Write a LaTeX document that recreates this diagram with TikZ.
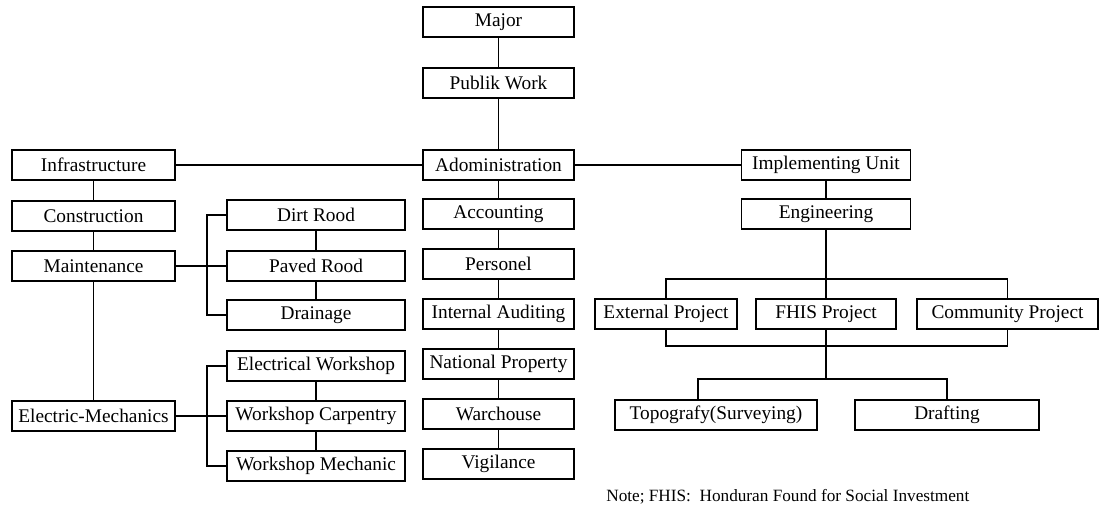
\documentclass[tikz,border=0pt]{standalone}
\usepackage{fontspec}
\setmainfont{Liberation Serif}
\usepackage{tikz}
\usetikzlibrary{positioning}

\begin{document}
\begin{tikzpicture}[x=0.02cm,y=-0.02cm,
  unit/.style={draw=black,fill=white,line width=1pt,minimum height=0.6cm,
    inner xsep=1pt,inner ysep=0pt,align=center,
    font=\fontsize{11}{12}\selectfont},
  leftcol/.style={unit,minimum width=3.26cm},
  subcol/.style={unit,minimum width=3.56cm},
  maincol/.style={unit,minimum width=3.02cm},
  link/.style={line width=0.9pt,black}
]
  \fill[white] (0,0) rectangle (1102,513);
  \useasboundingbox (0,0) rectangle (1102,513);

  \node[maincol] (major) at (498.5,22) {Major};
  \node[maincol] (publik) at (498.5,83) {Publik Work};
  \node[maincol] (admin) at (498.5,165) {Adoministration};
  \node[maincol] (accounting) at (498.5,214) {Accounting};
  \node[maincol] (personel) at (498.5,264) {Personel};
  \node[maincol] (auditing) at (498.5,314) {Internal Auditing};
  \node[maincol] (property) at (498.5,364) {National Property};
  \node[maincol] (warehouse) at (498.5,414) {Warchouse};
  \node[maincol] (vigilance) at (498.5,464) {Vigilance};

  \node[leftcol] (infra) at (93.5,165) {Infrastructure};
  \node[leftcol] (constr) at (93.5,216) {Construction};
  \node[leftcol] (maint) at (93.5,266) {Maintenance};
  \node[leftcol] (elmech) at (93.5,416) {Electric-Mechanics};

  \node[subcol] (dirt) at (316,215) {Dirt Rood};
  \node[subcol] (paved) at (316,266) {Paved Rood};
  \node[subcol] (drain) at (316,315) {Drainage};
  \node[subcol] (elshop) at (316,366) {Electrical Workshop};
  \node[subcol] (carpentry) at (316,416) {Workshop Carpentry};
  \node[subcol] (mechanic) at (316,466) {Workshop Mechanic};

  \node[unit,minimum width=3.38cm] (implementing) at (826,165) {Implementing Unit};
  \node[unit,minimum width=3.38cm] (engineering) at (826,214) {Engineering};
  \node[unit,minimum width=2.84cm] (external) at (666,314) {External Project};
  \node[unit,minimum width=2.8cm] (fhis) at (826,314) {FHIS Project};
  \node[unit,minimum width=3.62cm] (community) at (1007.5,314) {Community Project};
  \node[unit,minimum width=4.04cm] (topo) at (716,415) {Topografy(Surveying)};
  \node[unit,minimum width=3.68cm] (drafting) at (947,415) {Drafting};

  \node[anchor=west,inner sep=0pt,font=\fontsize{9.8}{11}\selectfont] (note)
    at (606,497) {Note; FHIS:\ \ Honduran Found for Social Investment};

  \coordinate (roadbar) at (207,266);
  \coordinate (shopbar) at (207,416);
  \coordinate (projtop) at (826,279);
  \coordinate (projbot) at (826,346);
  \coordinate (drawbar) at (826,379);

  \draw[link] (major) -- (publik) -- (admin) -- (accounting) -- (personel)
    -- (auditing) -- (property) -- (warehouse) -- (vigilance);
  \draw[link] (infra) -- (constr) -- (maint) -- (elmech);
  \draw[link] (infra) -- (admin);
  \draw[link] (admin) -- (implementing);
  \draw[link] (implementing) -- (engineering);
  \draw[link] (engineering) -- (fhis);
  \draw[link] (maint) -- (paved);
  \draw[link] (dirt.west) -| (roadbar) |- (drain.west);
  \draw[link] (dirt) -- (paved) -- (drain);
  \draw[link] (elmech) -- (carpentry);
  \draw[link] (elshop.west) -| (shopbar) |- (mechanic.west);
  \draw[link] (elshop) -- (carpentry) -- (mechanic);
  \draw[link] (external.north) |- (projtop) -| (community.north);
  \draw[link] (external.south) |- (projbot) -| (community.south);
  \draw[link] (fhis.south) -- (drawbar);
  \draw[link] ([xshift=-0.36cm]topo.north) |- (drawbar) -| (drafting.north);
\end{tikzpicture}
\end{document}
